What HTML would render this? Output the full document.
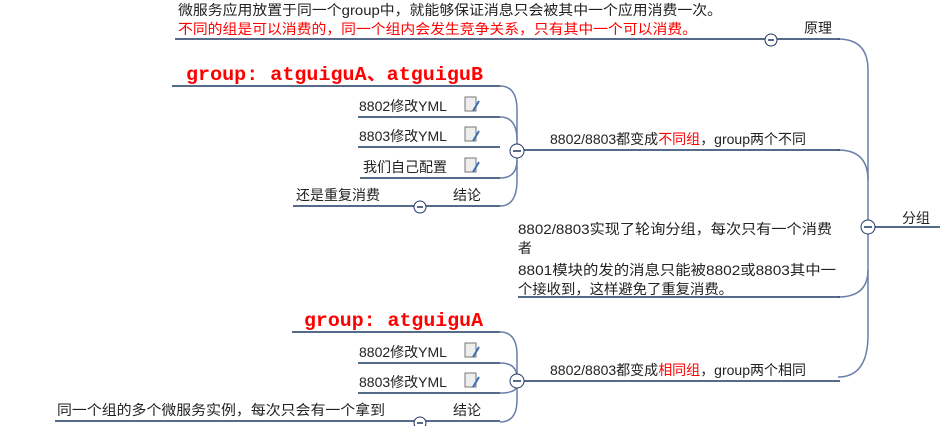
<!DOCTYPE html>
<html><head><meta charset="utf-8"><style>
html,body{margin:0;padding:0;background:#fff;}
svg{display:block;}
text{font-family:"Liberation Sans","Noto Sans CJK SC",sans-serif;font-size:14px;fill:#222;}
.r{fill:#f00;}
.g{font-family:"Liberation Mono","Noto Sans CJK SC",monospace;font-size:19px;font-weight:bold;fill:#f00;}
.l{stroke:#1f3864;stroke-width:1.5;fill:none;}
.c{stroke:#6a7fa8;stroke-width:1.5;fill:none;}
</style></head><body>
<svg width="940" height="426" viewBox="0 0 940 426">
<path class="c" d="M838 39 Q868 39 868 70 L868 335 Q868 377 838 377"/>
<path class="c" d="M838 150 Q868 150 868 180"/>
<path class="c" d="M838 297 Q868 297 868 270"/>
<line class="l" x1="868" y1="227" x2="940" y2="227"/>
<text x="902" y="223">分组</text>
<line class="l" x1="175" y1="39" x2="840" y2="39"/>
<text x="178" y="15" textLength="544" lengthAdjust="spacingAndGlyphs">微服务应用放置于同一个group中，就能够保证消息只会被其中一个应用消费一次。</text>
<text class="r" x="178" y="34" textLength="519" lengthAdjust="spacingAndGlyphs">不同的组是可以消费的，同一个组内会发生竞争关系，只有其中一个可以消费。</text>
<text x="804" y="33">原理</text>
<circle cx="771" cy="40" r="6" fill="#fff" stroke="#1f3864"/><line x1="768" y1="40" x2="774" y2="40" stroke="#1f3864" stroke-width="1.5"/>
<line class="l" x1="517" y1="150" x2="840" y2="150"/>
<text x="550" y="144">8802/8803都变成<tspan class="r">不同组</tspan>，group两个不同</text>
<path class="c" d="M500 86 Q517 86 517 110 L517 180 Q517 206 500 206"/>
<path class="c" d="M500 117 Q517 117 517 140"/>
<path class="c" d="M500 178 Q517 178 517 160"/>
<line class="l" x1="172" y1="86" x2="500" y2="86"/>
<text class="g" x="186" y="80" textLength="297" lengthAdjust="spacingAndGlyphs">group: atguiguA、atguiguB</text>
<line class="l" x1="358" y1="117" x2="500" y2="117"/>
<text x="359" y="111">8802修改YML</text>
<line class="l" x1="358" y1="147" x2="500" y2="147"/>
<text x="359" y="141">8803修改YML</text>
<line class="l" x1="360" y1="178" x2="500" y2="178"/>
<text x="363" y="172">我们自己配置</text>
<line class="l" x1="293" y1="206" x2="500" y2="206"/>
<text x="296" y="200">还是重复消费</text>
<text x="453" y="200">结论</text>
<circle cx="420" cy="207" r="6" fill="#fff" stroke="#1f3864"/><line x1="417" y1="207" x2="423" y2="207" stroke="#1f3864" stroke-width="1.5"/>
<circle cx="517" cy="151" r="7" fill="#fff" stroke="#1f3864"/><line x1="513" y1="151" x2="521" y2="151" stroke="#1f3864" stroke-width="1.5"/>
<line class="l" x1="518" y1="297" x2="840" y2="297"/>
<text x="518" y="234" textLength="314" lengthAdjust="spacingAndGlyphs">8802/8803实现了轮询分组，每次只有一个消费</text>
<text x="518" y="253">者</text>
<text x="518" y="275" textLength="318" lengthAdjust="spacingAndGlyphs">8801模块的发的消息只能被8802或8803其中一</text>
<text x="518" y="294" textLength="215" lengthAdjust="spacingAndGlyphs">个接收到，这样避免了重复消费。</text>
<line class="l" x1="517" y1="381" x2="840" y2="381"/>
<text x="550" y="375">8802/8803都变成<tspan class="r">相同组</tspan>，group两个相同</text>
<path class="c" d="M500 332 Q517 332 517 355 L517 400 Q517 422 500 422"/>
<path class="c" d="M500 363 Q517 363 517 378"/>
<path class="c" d="M500 393 Q517 393 517 385"/>
<line class="l" x1="292" y1="332" x2="500" y2="332"/>
<text class="g" x="304" y="326" textLength="179" lengthAdjust="spacingAndGlyphs">group: atguiguA</text>
<line class="l" x1="358" y1="363" x2="500" y2="363"/>
<text x="359" y="357">8802修改YML</text>
<line class="l" x1="358" y1="393" x2="500" y2="393"/>
<text x="359" y="387">8803修改YML</text>
<line class="l" x1="55" y1="421" x2="500" y2="421"/>
<text x="57" y="415" textLength="328" lengthAdjust="spacingAndGlyphs">同一个组的多个微服务实例，每次只会有一个拿到</text>
<text x="453" y="415">结论</text>
<circle cx="420" cy="423" r="6" fill="#fff" stroke="#1f3864"/><line x1="417" y1="423" x2="423" y2="423" stroke="#1f3864" stroke-width="1.5"/>
<circle cx="517" cy="381" r="7" fill="#fff" stroke="#1f3864"/><line x1="513" y1="381" x2="521" y2="381" stroke="#1f3864" stroke-width="1.5"/>
<circle cx="868" cy="227" r="7" fill="#fff" stroke="#1f3864"/><line x1="864" y1="227" x2="872" y2="227" stroke="#1f3864" stroke-width="1.5"/>
<g fill="#eee" stroke="#777" stroke-width="1">
<rect x="465" y="97" width="11" height="14"/><rect x="465" y="127" width="11" height="14"/><rect x="465" y="158" width="11" height="14"/>
<rect x="465" y="343" width="11" height="14"/><rect x="465" y="373" width="11" height="14"/>
</g>
<g stroke="#3a6fb5" stroke-width="2">
<line x1="479" y1="101" x2="473" y2="111"/><line x1="479" y1="131" x2="473" y2="141"/><line x1="479" y1="162" x2="473" y2="172"/>
<line x1="479" y1="347" x2="473" y2="357"/><line x1="479" y1="377" x2="473" y2="387"/>
</g>
</svg>
</body></html>
